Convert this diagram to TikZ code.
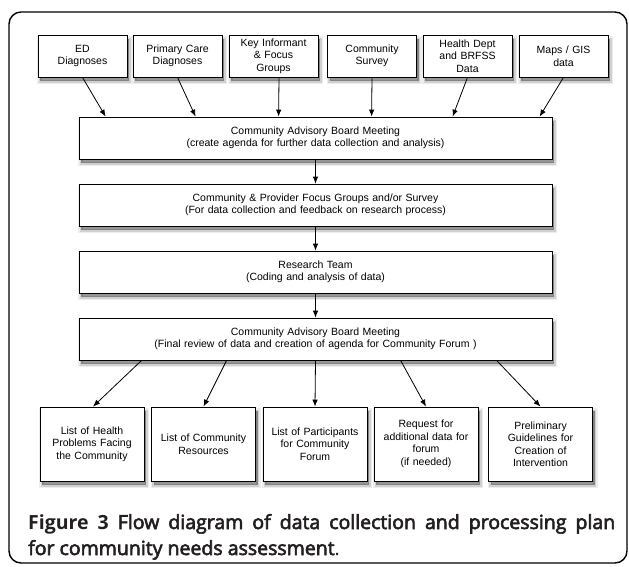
\documentclass[tikz,border=0pt]{standalone}
\usepackage{fontspec}
\setmainfont{Liberation Sans}
\newfontfamily\capfont{Open Sans}
\newfontfamily\capsemi[FakeBold=3]{Open Sans}
\usetikzlibrary{arrows.meta}
\definecolor{captext}{HTML}{231F20}
\tikzset{
  shadowed/.style={
    preaction={fill=black,draw=black,line width=6pt,opacity=0.07,transform canvas={xshift=2pt,yshift=-4pt}},
    preaction={fill=black,draw=black,line width=3pt,opacity=0.12,transform canvas={xshift=2pt,yshift=-4pt}},
    preaction={fill=black,opacity=0.22,transform canvas={xshift=2pt,yshift=-4pt}}},
  boxbase/.style={draw=black,fill=white,line width=0.8pt,shadowed,align=center,
    font=\fontsize{10.5}{12.5}\selectfont,inner sep=1pt},
  srcbox/.style={boxbase,minimum width=89pt,minimum height=42pt,text width=86pt},
  bigbox/.style={boxbase,minimum width=473pt,minimum height=42pt,text width=468pt},
  outbox/.style={boxbase,minimum width=104pt,minimum height=74pt,text width=100pt},
  arr/.style={-{Latex[length=7pt,width=5.5pt]},line width=0.8pt},
  frame/.style={draw=black,line width=1.4pt,rounded corners=12pt},
  captxt/.style={anchor=base west,inner sep=0pt,text=captext,font=\capsemi\fontsize{19.5}{24}\selectfont}
}
\begin{document}
\begin{tikzpicture}[x=1pt,y=-1pt]
\useasboundingbox (0,0) rectangle (629,566);
\fill[white] (0,0) rectangle (629,566);
\draw[frame] (9,12) rectangle (627,563);

\node[srcbox] (ed)   at (82.5,56)  {ED\\Diagnoses};
\node[srcbox] (pc)   at (177.5,56) {Primary Care\\Diagnoses};
\node[srcbox] (ki)   at (273.5,56) {Key Informant\\\& Focus\\Groups};
\node[srcbox] (cs)   at (372,56)   {Community\\Survey};
\node[srcbox] (hd)   at (467.5,56) {Health Dept\\and BRFSS\\Data};
\node[srcbox] (gis)  at (563.5,56) {Maps / GIS\\data};

\node[bigbox] (cab1) at (315.5,138) {Community Advisory Board Meeting\\(create agenda for further data collection and analysis)};
\node[bigbox] (fg)   at (315.5,205) {Community \& Provider Focus Groups and/or Survey\\(For data collection and feedback on research process)};
\node[bigbox] (rt)   at (315.5,272) {Research Team\\(Coding and analysis of data)};
\node[bigbox] (cab2) at (315.5,339) {Community Advisory Board Meeting\\(Final review of data and creation of agenda for Community Forum )};

\node[outbox] (o1) at (92,444)    {List of Health\\Problems Facing\\the Community};
\node[outbox] (o2) at (203.5,444) {List of Community\\Resources};
\node[outbox] (o3) at (315,444)   {List of Participants\\for Community\\Forum};
\node[outbox] (o4) at (426,444)   {Request for\\additional data for\\forum\\(if needed)};
\node[outbox] (o5) at (540.5,444) {Preliminary\\Guidelines for\\Creation of\\Intervention};

\draw[arr] (ed.south) -- ([xshift=27pt]cab1.north west);
\draw[arr] (pc.south) -- ([xshift=117pt]cab1.north west);
\draw[arr] ([xshift=5.5pt]ki.south) -- ([xshift=200pt]cab1.north west);
\draw[arr] (cs.south) -- ([xshift=293pt]cab1.north west);
\draw[arr] (hd.south) -- ([xshift=374pt]cab1.north west);
\draw[arr] (gis.south) -- ([xshift=461pt]cab1.north west);

\draw[arr] (cab1.south) -- (fg.north);
\draw[arr] (fg.south) -- (rt.north);
\draw[arr] (rt.south) -- (cab2.north);

\draw[arr] ([xshift=63pt]cab2.south west) -- ([xshift=1pt]o1.north);
\draw[arr] ([xshift=148pt]cab2.south west) -- (o2.north);
\draw[arr] (cab2.south) -- (o3.north);
\draw[arr] ([xshift=322pt]cab2.south west) -- (o4.north);
\draw[arr] ([xshift=418pt]cab2.south west) -- (o5.north);

\node[captxt] (cap1) at (28,529)
  {\makebox[587pt][s]{{\capfont\bfseries Figure 3} Flow diagram of data collection and processing plan}};
\node[captxt] (cap2) at (28,555)
  {for community needs assessment{\capfont\mdseries .}};
\end{tikzpicture}
\end{document}
